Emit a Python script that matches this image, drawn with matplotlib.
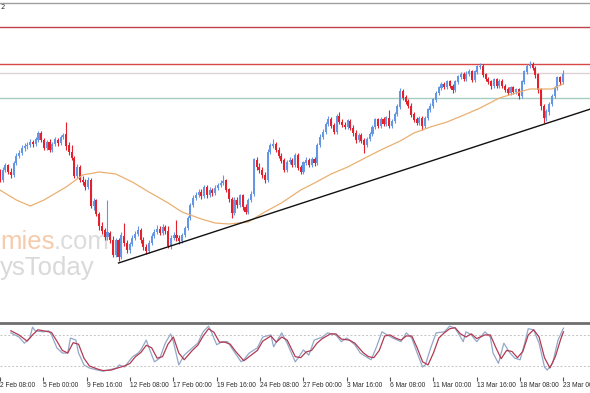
import numpy as np
import matplotlib
matplotlib.use('Agg')
import matplotlib.pyplot as plt

# H4 candles, first bar index is 4 (bar 0 = "2 Feb 08:00")
opens = [122.8, 122.0, 123.0, 123.4, 122.8, 122.5, 123.7, 124.4, 124.7, 125.2,
         125.4, 125.5, 125.8, 125.6, 126.0, 126.7, 126.0, 125.2, 125.8, 125.0,
         125.6, 126.0, 125.7, 126.3, 126.6, 125.4, 124.8, 124.2, 122.4, 123.3,
         122.0, 121.8, 121.3, 122.0, 119.4, 119.9, 118.6, 117.4, 116.9, 116.3,
         116.7, 116.0, 114.5, 115.9, 114.3, 116.4, 115.7, 115.0, 115.6, 116.2,
         116.6, 117.0, 116.0, 115.3, 114.9, 115.7, 116.4, 116.8, 117.1, 116.7,
         117.3, 116.9, 115.4, 116.2, 116.5, 116.2, 115.9, 116.5, 117.2, 118.2,
         119.5, 120.2, 120.5, 120.8, 120.4, 121.3, 120.5, 121.0, 120.7, 121.2,
         121.5, 121.7, 121.9, 121.0, 120.1, 118.7, 120.0, 119.5, 120.4, 119.3,
         118.8, 120.0, 120.6, 124.0, 123.3, 123.0, 122.5, 122.0, 124.8, 125.4,
         125.6, 125.0, 124.4, 123.9, 123.0, 123.8, 124.0, 123.5, 124.5, 123.2,
         122.8, 123.7, 124.0, 123.5, 124.1, 123.7, 125.5, 126.3, 126.8, 127.6,
         128.1, 127.4, 126.8, 128.4, 127.8, 127.5, 127.3, 127.9, 127.2, 126.7,
         126.0, 126.5, 125.9, 125.5, 126.1, 126.6, 127.3, 128.0, 127.4, 128.0,
         127.6, 128.2, 127.4, 127.9, 128.6, 129.3, 130.8, 130.2, 129.8, 129.4,
         128.5, 128.0, 127.7, 128.2, 127.4, 128.2, 129.0, 129.4, 130.0, 130.7,
         131.2, 131.6, 131.3, 131.8, 131.4, 131.0, 131.8, 132.3, 132.6, 132.1,
         132.6, 132.8, 132.0, 132.8, 133.3, 133.4, 132.5, 132.1, 131.8, 131.4,
         132.0, 131.4, 131.9, 131.4, 131.0, 130.7, 131.2, 130.8, 131.0, 130.4,
         131.8, 132.8, 133.4, 133.6, 133.2, 132.5, 131.0, 129.4, 128.2, 128.8,
         129.6, 130.4, 131.2, 132.2, 131.8]
closes = [122.0, 123.0, 123.4, 122.8, 122.5, 123.7, 124.4, 124.7, 125.2, 125.4,
          125.5, 125.8, 125.6, 126.0, 126.7, 126.0, 125.2, 125.8, 125.0, 125.6,
          126.0, 125.7, 126.3, 126.5, 125.4, 124.8, 124.2, 122.4, 123.3, 122.0,
          121.8, 121.3, 122.0, 119.4, 119.9, 118.6, 117.4, 116.9, 116.3, 116.7,
          116.0, 114.5, 115.9, 114.3, 116.4, 115.7, 115.0, 115.6, 116.2, 116.6,
          117.0, 116.0, 115.3, 114.9, 115.7, 116.4, 116.8, 117.1, 116.7, 117.3,
          116.9, 115.4, 116.2, 116.5, 116.2, 115.9, 116.5, 117.2, 118.2, 119.5,
          120.2, 120.5, 120.8, 120.4, 121.3, 120.5, 121.0, 120.7, 121.2, 121.5,
          121.7, 121.9, 121.0, 120.1, 118.7, 120.0, 119.5, 120.4, 119.3, 118.8,
          120.0, 120.6, 124.0, 123.3, 123.0, 122.5, 122.0, 124.8, 125.4, 125.6,
          125.0, 124.4, 123.9, 123.0, 123.8, 124.0, 123.5, 124.5, 123.2, 122.8,
          123.7, 124.0, 123.5, 124.1, 123.7, 125.5, 126.3, 126.8, 127.6, 128.1,
          127.4, 126.8, 128.4, 127.8, 127.5, 127.3, 127.9, 127.2, 126.7, 126.0,
          126.5, 125.9, 125.5, 126.1, 126.6, 127.3, 128.0, 127.4, 128.0, 127.6,
          128.2, 127.4, 127.9, 128.6, 129.3, 130.8, 130.2, 129.8, 129.4, 128.5,
          128.0, 127.7, 128.2, 127.4, 128.2, 129.0, 129.4, 130.0, 130.7, 131.2,
          131.6, 131.3, 131.8, 131.4, 131.0, 131.8, 132.3, 132.6, 132.1, 132.6,
          132.8, 132.0, 132.8, 133.3, 133.4, 132.5, 132.1, 131.8, 131.4, 132.0,
          131.4, 131.9, 131.4, 131.0, 130.7, 131.2, 130.8, 131.0, 130.4, 131.8,
          132.8, 133.4, 133.6, 133.2, 132.5, 131.0, 129.4, 128.2, 128.8, 129.6,
          130.4, 131.2, 132.2, 131.8, 132.6]
highs = [123.1, 123.3, 123.7, 123.6, 123.2, 123.9, 124.7, 125.0, 125.5, 125.7,
         125.8, 126.1, 126.0, 126.3, 126.9, 126.9, 126.2, 126.0, 126.1, 125.8,
         126.3, 126.2, 126.5, 126.7, 127.8, 125.8, 125.5, 124.4, 123.6, 123.5,
         122.4, 122.1, 122.3, 122.2, 120.2, 120.1, 118.8, 117.8, 117.2, 120.0,
         116.9, 116.4, 116.2, 116.2, 116.8, 117.7, 116.0, 115.8, 116.5, 116.9,
         117.4, 117.2, 116.3, 115.6, 116.0, 116.7, 117.1, 117.5, 117.4, 117.6,
         117.5, 117.4, 116.5, 116.8, 118.0, 116.5, 116.7, 117.4, 118.4, 119.7,
         120.5, 120.8, 121.1, 121.1, 121.5, 121.5, 121.3, 121.2, 121.5, 121.7,
         122.0, 122.5, 122.1, 121.2, 120.3, 120.3, 120.3, 120.6, 120.6, 119.6,
         120.2, 120.9, 124.2, 124.3, 123.7, 123.3, 122.8, 125.1, 125.7, 126.1,
         125.8, 125.3, 124.7, 124.2, 124.0, 124.3, 124.2, 124.7, 124.7, 123.5,
         123.9, 124.3, 124.2, 124.3, 124.3, 125.7, 126.6, 127.1, 127.8, 128.4,
         128.3, 127.7, 128.6, 128.8, 128.1, 127.8, 128.1, 128.1, 127.5, 127.0,
         126.7, 126.7, 126.2, 126.3, 126.8, 127.5, 128.2, 128.2, 128.3, 128.3,
         128.4, 129.0, 128.1, 128.8, 129.6, 131.2, 131.1, 130.5, 130.1, 129.7,
         128.8, 128.3, 128.4, 128.4, 128.4, 129.2, 129.7, 130.2, 130.9, 131.4,
         131.8, 131.8, 132.0, 132.0, 131.6, 132.0, 132.5, 132.8, 132.8, 132.9,
         133.1, 133.0, 133.0, 133.5, 133.7, 133.6, 132.7, 132.3, 132.0, 132.2,
         132.2, 132.1, 132.1, 131.6, 131.3, 131.4, 131.4, 131.2, 131.2, 132.0,
         133.0, 133.6, 133.9, 133.8, 133.4, 132.7, 131.2, 129.6, 129.1, 129.8,
         130.6, 131.4, 132.4, 132.4, 133.0]
lows = [121.8, 121.8, 122.8, 122.6, 122.2, 122.3, 123.5, 124.2, 124.5, 124.9,
        125.1, 125.3, 125.3, 125.4, 125.8, 125.8, 125.0, 125.0, 124.8, 124.8,
        125.4, 125.4, 125.5, 126.1, 125.0, 124.5, 124.0, 122.2, 122.2, 121.8,
        121.5, 121.0, 121.1, 119.2, 119.0, 118.4, 117.0, 116.6, 116.0, 116.0,
        115.7, 114.3, 114.3, 113.9, 114.1, 115.4, 114.7, 114.7, 115.4, 116.0,
        116.4, 115.7, 115.0, 114.6, 114.7, 115.5, 116.2, 116.6, 116.5, 116.5,
        116.6, 115.2, 115.1, 116.0, 115.9, 115.6, 115.7, 116.3, 117.0, 118.0,
        119.3, 120.0, 120.3, 120.1, 120.2, 120.2, 120.3, 120.4, 120.5, 121.0,
        121.3, 121.5, 120.8, 119.8, 118.2, 118.5, 119.2, 119.3, 119.0, 118.6,
        118.6, 119.8, 120.4, 123.0, 122.7, 122.2, 121.7, 121.8, 124.6, 125.2,
        124.8, 124.2, 123.7, 122.8, 122.8, 123.6, 123.3, 123.3, 123.0, 122.6,
        122.6, 123.5, 123.3, 123.3, 123.4, 123.5, 125.3, 126.1, 126.6, 127.4,
        127.2, 126.6, 126.6, 127.6, 127.3, 127.1, 127.1, 127.0, 126.4, 125.7,
        125.8, 125.7, 124.7, 125.3, 125.9, 126.4, 127.1, 127.2, 127.2, 127.4,
        127.4, 127.2, 127.2, 127.7, 128.4, 129.1, 130.0, 129.6, 129.2, 128.3,
        127.8, 127.5, 127.5, 127.0, 127.2, 128.0, 128.8, 129.2, 129.8, 130.5,
        131.0, 131.1, 131.1, 131.2, 130.7, 130.8, 131.6, 132.1, 131.9, 131.9,
        132.4, 131.8, 131.8, 132.6, 133.1, 132.3, 131.9, 131.6, 131.1, 131.2,
        131.2, 131.2, 131.2, 130.8, 130.5, 130.5, 130.6, 130.6, 130.1, 130.2,
        131.6, 132.6, 133.2, 133.0, 132.2, 130.7, 129.0, 127.7, 127.9, 128.5,
        129.4, 130.2, 131.0, 131.5, 131.6]
assert len(opens) == len(closes) == len(highs) == len(lows)

# moving average
ma_bars = [4, 10, 15, 20, 28, 34, 40, 46, 52, 58, 65, 70, 77, 82, 87, 94, 100, 106,
           113, 118, 124, 130, 137, 142, 149, 154, 160, 166, 173, 178, 185, 191, 196, 204, 208]
ma_vals = [121.0, 120.0, 119.4, 120.0, 121.3, 122.5, 122.8, 122.6, 121.8, 120.8, 119.7,
           118.8, 118.1, 117.7, 117.6, 117.8, 118.8, 119.7, 121.0, 121.7, 122.6, 123.3,
           124.3, 125.0, 125.9, 126.7, 127.3, 127.8, 128.6, 129.2, 130.2, 130.7, 131.1,
           131.1, 131.6]

# horizontal levels and trend line
resist_top = 137.3
resist_mid = 133.65
bid_price = 132.7
support = 130.25
trend_bars = [47, 218]
trend_prices = [113.7, 129.1]

# stochastic oscillator
st_bars = [4, 7, 9, 11, 12, 13, 16, 18, 19, 21, 23, 25, 26, 28, 29, 31, 33, 36, 38, 40,
           43, 44, 46, 47, 49, 51, 52, 54, 55, 57, 59, 61, 63, 64, 66, 68, 71, 73, 75, 77,
           78, 80, 82, 84, 86, 89, 90, 92, 95, 97, 100, 101, 104, 106, 109, 110, 112, 114,
           116, 119, 121, 124, 126, 128, 131, 133, 136, 137, 139, 141, 143, 145, 148, 150,
           152, 154, 156, 157, 159, 161, 164, 166, 168, 170, 171, 172, 174, 176, 179, 181,
           182, 184, 186, 188, 190, 192, 194, 195, 197, 199, 201, 202, 204, 206, 208]
st_main = [84, 76, 64, 74, 95, 88, 86, 88, 80, 55, 45, 45, 74, 70, 45, 22, 16, 12, 10, 12,
           16, 22, 18, 25, 38, 45, 51, 70, 55, 28, 35, 64, 82, 67, 22, 41, 55, 64, 86, 97,
           86, 61, 67, 67, 51, 28, 32, 45, 55, 76, 80, 57, 84, 64, 28, 35, 51, 41,
           70, 76, 84, 80, 67, 74, 61, 45, 35, 32, 57, 86, 80, 74, 67, 84,
           74, 45, 18, 22, 55, 84, 86, 97, 93, 76, 67, 86, 80, 67, 86, 76,
           45, 25, 64, 47, 35, 32, 70, 92, 90, 64, 18, 12, 25, 70, 93]
sig_bars = [4, 7, 10, 12, 14, 17, 19, 21, 23, 25, 27, 29, 31, 33, 36, 38, 41, 44, 46, 48,
            50, 52, 54, 56, 58, 60, 62, 64, 66, 68, 71, 73, 75, 77, 79, 81, 83, 85, 87, 90,
            92, 95, 97, 100, 102, 104, 106, 109, 111, 113, 115, 117, 119, 122, 124, 126,
            129, 131, 134, 136, 138, 140, 142, 144, 146, 148, 150, 152, 154, 156, 158, 160,
            162, 164, 166, 168, 170, 172, 174, 176, 179, 181, 183, 185, 187, 189, 191, 193,
            195, 197, 199, 201, 203, 205, 207, 208]
st_signal = [88, 80, 68, 80, 90, 87, 85, 68, 50, 45, 65, 62, 35, 20, 14, 11, 12, 17, 20, 25,
             38, 46, 60, 55, 35, 38, 62, 76, 45, 32, 50, 60, 78, 92, 85, 66, 66, 62, 48, 30,
             38, 50, 68, 78, 66, 76, 70, 38, 36, 47, 50, 64, 73, 82, 82, 72,
             70, 64, 46, 38, 36, 50, 78, 80, 74, 70, 78, 78, 55, 28, 22, 45,
             74, 84, 92, 94, 82, 76, 82, 73, 80, 80, 56, 34, 50, 48, 36, 48,
             80, 90, 76, 36, 16, 38, 72, 86]

tick_bars = [0, 16, 32, 48, 64, 80, 96, 112, 128, 144, 160, 176, 192, 208]
tick_labels = ['2 Feb 08:00', '5 Feb 00:00', '9 Feb 16:00', '12 Feb 08:00', '17 Feb 00:00',
               '19 Feb 16:00', '24 Feb 08:00', '27 Feb 00:00', '3 Mar 16:00', '6 Mar 08:00',
               '11 Mar 00:00', '13 Mar 16:00', '18 Mar 08:00', '23 Mar 00:00']

W, H = 590, 393
fig = plt.figure(figsize=(W / 100, H / 100), dpi=100)
ax = fig.add_axes([0, 1 - 320 / H, 1, 317 / H])
ax2 = fig.add_axes([0, 1 - 377 / H, 1, 54 / H])

bars = np.arange(4, 4 + len(closes))
o = np.array(opens); c = np.array(closes)
up = c >= o
cols = np.where(up, '#6496e4', '#e3202b')

# watermark behind the candles
ax.text(0 / W, 1 - 249 / H, 'mies', transform=fig.transFigure, color='#f5cbac',
        fontsize=18.5, family='Liberation Sans', va='baseline', zorder=0)
ax.text(54 / W, 1 - 249 / H, '.com', transform=fig.transFigure, color='#dcdcdc',
        fontsize=18.5, family='Liberation Sans', va='baseline', zorder=0)
ax.text(0 / W, 1 - 275 / H, 'ysToday', transform=fig.transFigure, color='#d9d9d9',
        fontsize=18.5, family='Liberation Sans', va='baseline', zorder=0)

ax.axhline(resist_top, color='#c0404c', lw=1)
ax.axhline(resist_mid, color='#d84848', lw=1)
ax.axhline(bid_price, color='#dcd2d6', lw=1)
ax.axhline(support, color='#a6cdc2', lw=1)

ax.vlines(bars, lows, highs, colors=cols, lw=0.8, zorder=2)
ax.bar(bars, np.abs(c - o) + 0.05, bottom=np.minimum(o, c), width=0.75,
       color=cols, lw=0, zorder=3)

ax.plot(ma_bars, ma_vals, color='#eab072', lw=0.9, zorder=4)
ax.plot(trend_bars, trend_prices, color='#111111', lw=1, zorder=4)

xlim = (4.06, 217.8)
ax.set_xlim(xlim)
ax.set_ylim(108.0, 139.7)
ax.set_xticks([]); ax.set_yticks([])
for s in ['left', 'right', 'bottom']:
    ax.spines[s].set_visible(False)
ax.spines['top'].set_color('#a0a0a0')
ax.spines['top'].set_linewidth(1)

# stochastic panel
ax2.axhline(80, color='#c4c4c4', lw=0.7, ls=(0, (2, 2)))
ax2.axhline(20, color='#c4c4c4', lw=0.7, ls=(0, (2, 2)))
ax2.plot(st_bars, st_main, color='#92a8c8', lw=0.9)
ax2.plot(sig_bars, st_signal, color='#b23a52', lw=0.9)
ax2.set_xlim(xlim)
ax2.set_ylim(-1.4, 103.1)
ax2.set_yticks([])
for s in ['left', 'right', 'bottom']:
    ax2.spines[s].set_visible(False)
ax2.spines['top'].set_color('#6e6e6e')
ax2.spines['top'].set_linewidth(2)
ax2.set_xticks(tick_bars)
ax2.set_xticklabels(tick_labels, family='Liberation Sans', fontsize=4.8, color='#2a2a2a')
ax2.tick_params(axis='x', length=3, width=0.8, color='#555555', pad=0.8)
for lbl in ax2.get_xticklabels():
    lbl.set_ha('left')

fig.text(1 / W, 1 - 9 / H, '2', fontsize=5, color='#333333')

fig.savefig('out.png', dpi=100)
